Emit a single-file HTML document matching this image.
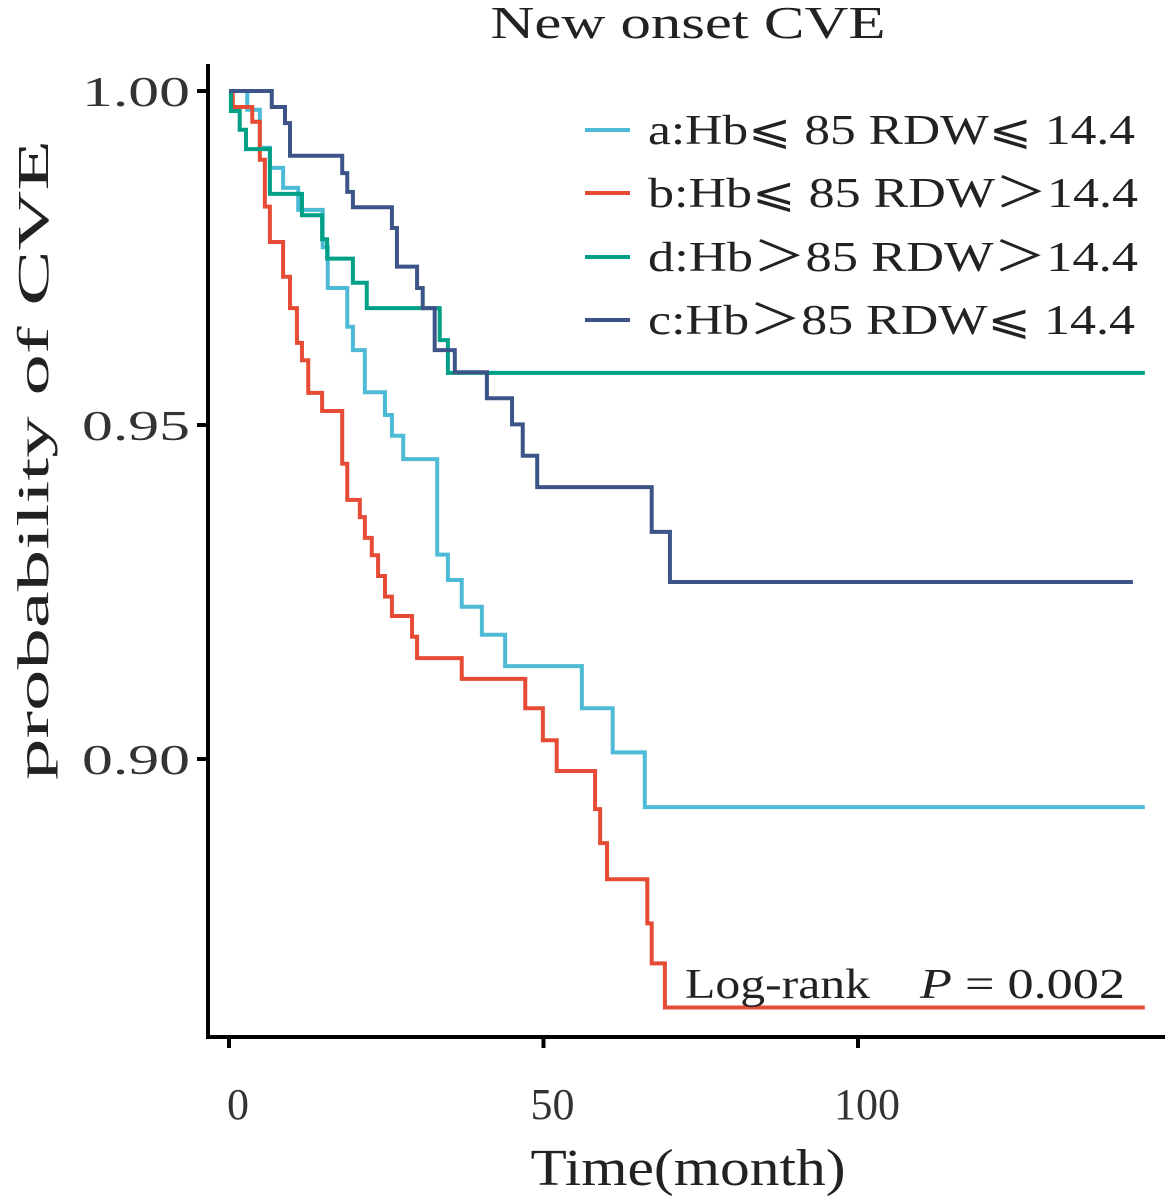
<!DOCTYPE html>
<html><head><meta charset="utf-8"><style>
body{margin:0;background:#fff}
svg{display:block;font-family:"Liberation Serif","DejaVu Serif",serif}
</style></head><body>
<svg id="chart" width="1167" height="1204">
<text x="688" y="38" font-size="46" textLength="395" lengthAdjust="spacingAndGlyphs" text-anchor="middle" fill="#222">New onset CVE</text>
<g id="curves"></g>
<g id="axes"></g>
<text x="48" y="460" font-size="44" textLength="640" lengthAdjust="spacingAndGlyphs" text-anchor="middle" fill="#222" transform="rotate(-90 48 460)">probability of CVE</text>
<text x="688" y="1185" font-size="52" textLength="315" lengthAdjust="spacingAndGlyphs" text-anchor="middle" fill="#222">Time(month)</text>
<g id="legend"></g>
<text x="685" y="998" font-size="42" textLength="185" lengthAdjust="spacingAndGlyphs" fill="#222">Log-rank</text>
<text x="920" y="998" font-size="42" textLength="205" lengthAdjust="spacingAndGlyphs" fill="#222"><tspan font-style="italic">P</tspan> = 0.002</text>
</svg>
<script>
const names=["a:Hb\u2a7d 85 RDW\u2a7d 14.4","b:Hb\u2a7d 85 RDW\uff1e14.4","d:Hb\uff1e85 RDW\uff1e14.4","c:Hb\uff1e85 RDW\u2a7d 14.4"];
const colors=["#4DBBD5","#E64B35","#00A087","#3C5488"];
const timesA=[2.9,4.9,6.5,8.6,11.0,14.9,15.7,18.8,19.7,21.6,24.8,25.9,27.7,33.1,34.8,37.0,40.2,43.9,56.1,61.0,66.1];
const survA=[.9972,.9915,.9885,.9855,.9822,.9766,.9705,.9647,.9612,.9549,.9515,.9484,.9449,.9306,.9268,.9228,.9186,.9139,.9076,.9010,.8928];
const timesB=[0.6,3.7,4.9,5.7,6.5,8.6,9.7,10.8,11.6,12.6,14.8,18.0,18.8,20.8,21.6,22.7,23.7,24.8,25.9,29.1,29.9,37.0,47.1,49.9,52.1,58.2,59.0,60.1,66.5,67.2,69.3];
const survB=[.9976,.9954,.9897,.9827,.9774,.9722,.9675,.9623,.9597,.9548,.9521,.9442,.9388,.9362,.9331,.9305,.9274,.9243,.9214,.9183,.9151,.9120,.9076,.9028,.8982,.8925,.8874,.8820,.8754,.8694,.8628];
const timesD=[0.3,1.7,2.7,6.5,11.6,14.8,15.6,19.7,21.9,33.5,34.8];
const survD=[.997,.9942,.9913,.9846,.9814,.9778,.9749,.9713,.9675,.9627,.9578];
const timesC=[6.8,8.9,9.7,18.0,18.8,19.7,25.9,26.7,29.9,30.8,32.7,35.9,41.0,45.0,46.7,49.0,67.2,70.1];
const survC=[.9976,.9952,.9903,.9877,.9849,.9826,.9795,.9737,.9705,.9675,.9612,.9579,.9540,.9501,.9454,.9407,.9340,.9265];
const endTimes=[145.6,145.6,145.6,143.7];
const xTicks=[0,50,100];
const yTicks=[0.90,0.95,1.00];
const yTickLabels=["0.90","0.95","1.00"];
const X=t=>229+t*6.29;
const Y=s=>91+(1-s)*6680;
const NS="http://www.w3.org/2000/svg";
const series=[[timesA,survA],[timesB,survB],[timesD,survD],[timesC,survC]];
const sNames=["curve-a","curve-b","curve-d","curve-c"];
const cg=document.getElementById('curves');
series.forEach((sr,i)=>{
  let d="M"+X(0)+","+Y(1);
  sr[0].forEach((t,j)=>{d+=" H"+X(t)+" V"+Y(sr[1][j]);});
  d+=" H"+X(endTimes[i]);
  const p=document.createElementNS(NS,'path');
  p.setAttribute('d',d);p.setAttribute('fill','none');p.setAttribute('stroke',colors[i]);p.setAttribute('stroke-width','4');
  
  
  cg.appendChild(p);
});
const ag=document.getElementById('axes');
function ln(x1,y1,x2,y2,w){const l=document.createElementNS(NS,'line');l.setAttribute('x1',x1);l.setAttribute('y1',y1);l.setAttribute('x2',x2);l.setAttribute('y2',y2);l.setAttribute('stroke','#000');l.setAttribute('stroke-width',w);ag.appendChild(l);return l;}
let la=ln(208,64,208,1039,4);


let lb=ln(206,1037,1165,1037,4);


yTicks.forEach((v,i)=>{
  const t=ln(197,Y(v),208,Y(v),4);
  
  
  const tx=document.createElementNS(NS,'text');
  tx.setAttribute('x',190);tx.setAttribute('y',Y(v)+15);tx.setAttribute('font-size','42');tx.setAttribute('text-anchor','end');tx.setAttribute('fill','#333');
  tx.setAttribute('textLength','108');tx.setAttribute('lengthAdjust','spacingAndGlyphs');
  tx.textContent=yTickLabels[i];
  
  
  ag.appendChild(tx);
});
xTicks.forEach(v=>{
  const t=ln(X(v),1037,X(v),1048,4);
  
  
  const tx=document.createElementNS(NS,'text');
  tx.setAttribute('x',X(v)+9);tx.setAttribute('y',1119);tx.setAttribute('font-size','44');tx.setAttribute('text-anchor','middle');tx.setAttribute('fill','#333');
  tx.textContent=String(v);
  
  
  ag.appendChild(tx);
});
const lg=document.getElementById('legend');
const legY=[130,193,257,320];
const legW=[487,490,490,487];
names.forEach((n,i)=>{
  const l=document.createElementNS(NS,'line');
  l.setAttribute('x1',585);l.setAttribute('x2',630);l.setAttribute('y1',legY[i]);l.setAttribute('y2',legY[i]);l.setAttribute('stroke',colors[i]);l.setAttribute('stroke-width','4');
  
  
  lg.appendChild(l);
  const tx=document.createElementNS(NS,'text');
  tx.setAttribute('x',648);tx.setAttribute('y',legY[i]+14);tx.setAttribute('font-size','42');tx.setAttribute('fill','#222');
  tx.setAttribute('textLength',legW[i]);tx.setAttribute('lengthAdjust','spacingAndGlyphs');
  tx.textContent=n;
  
  
  lg.appendChild(tx);
});
</script>
</body></html>
